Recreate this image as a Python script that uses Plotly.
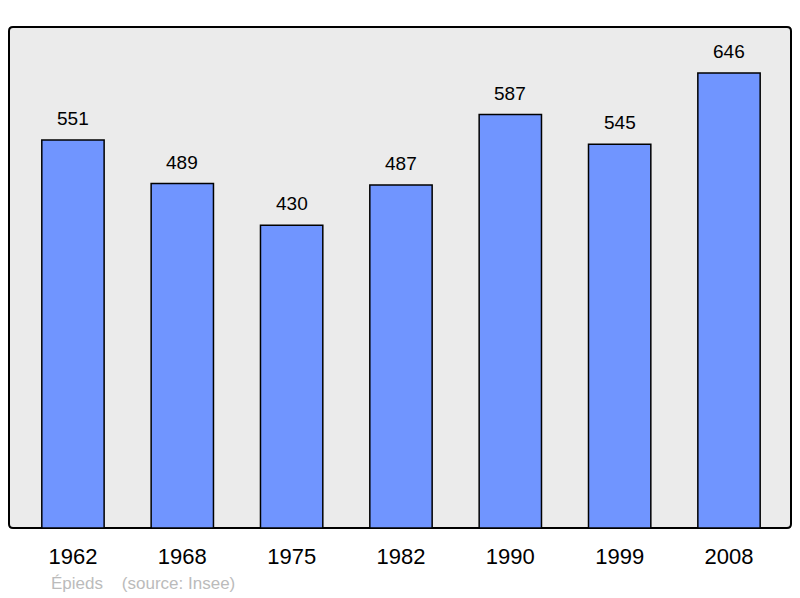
import plotly.graph_objects as go

years = ["1962", "1968", "1975", "1982", "1990", "1999", "2008"]
population = [551, 489, 430, 487, 587, 545, 646]
commune = "Épieds"
source = "(source: Insee)"

# page body has an 8px margin, so work in shifted coordinates
OFF = 8
W, H = 800 - OFF, 598 - OFF
L, R, T, B = 9 - OFF, 791 - OFF, 27 - OFF, 528 - OFF
pw, ph = R - L, B - T

fig = go.Figure()
fig.add_trace(go.Bar(
    x=list(range(len(years))), y=population,
    width=0.57,
    marker=dict(color="#7095ff", line=dict(color="#000000", width=1.5)),
    hoverinfo="skip",
))

for i, v in enumerate(population):
    fig.add_annotation(x=i, y=v, text=str(v), showarrow=False,
                       yanchor="bottom", yshift=9,
                       font=dict(size=19, color="#000000", family="Liberation Sans, Arial, sans-serif"))

# rounded frame
r = 4
rx, ry = r / pw, r / ph
path = (f"M {rx},0 L {1-rx},0 Q 1,0 1,{ry} L 1,{1-ry} Q 1,1 {1-rx},1 "
        f"L {rx},1 Q 0,1 0,{1-ry} L 0,{ry} Q 0,0 {rx},0 Z")
fig.add_shape(type="path", path=path, xref="paper", yref="paper",
              fillcolor="#ebebeb", line=dict(color="#000000", width=2), layer="below")

fig.add_annotation(x=(49 - 9) / pw, y=(528 - 583) / ph, xref="paper", yref="paper",
                   text=f"{commune}&nbsp;&nbsp;&nbsp;&nbsp;{source}", showarrow=False,
                   xanchor="left", yanchor="middle",
                   font=dict(size=17, color="#bbbbbb", family="Liberation Sans, Arial, sans-serif"))

fig.update_layout(
    width=W, height=H,
    margin=dict(l=L, r=W - R, t=T, b=H - B),
    paper_bgcolor="#ffffff", plot_bgcolor="rgba(0,0,0,0)",
    showlegend=False,
    font=dict(family="Liberation Sans, Arial, sans-serif"),
    xaxis=dict(range=[-0.585, 6.567], tickmode="array", tickvals=list(range(len(years))),
               ticktext=years, showgrid=False, zeroline=False, showline=False,
               ticks="outside", ticklen=9, tickcolor="rgba(0,0,0,0)",
               tickfont=dict(size=22, color="#000000"), fixedrange=True),
    yaxis=dict(range=[0, 711.3], showgrid=False, zeroline=False, showline=False,
               showticklabels=False, fixedrange=True),
)

fig.write_html("out.html")
